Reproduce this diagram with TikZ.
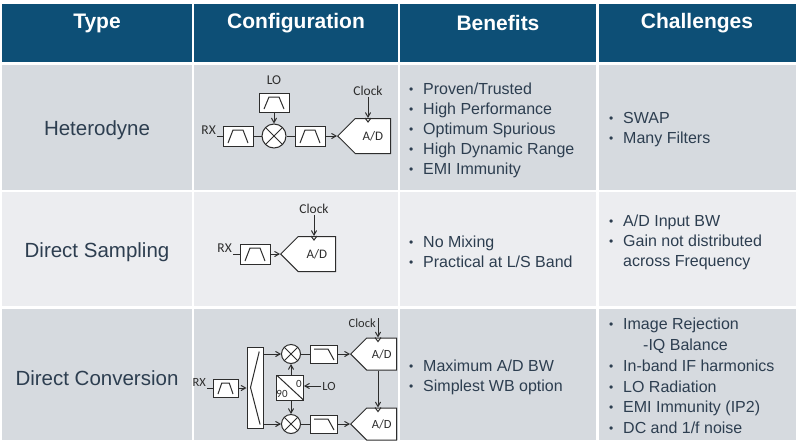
\documentclass[tikz,border=0pt]{standalone}
\usepackage{fontspec}
\setmainfont{Liberation Sans}
\newfontfamily\diagfont{Carlito}
\usetikzlibrary{arrows,shapes.symbols,calc}

\definecolor{headblue}{RGB}{13,79,118}
\definecolor{rowgray}{RGB}{214,218,223}
\definecolor{rowlight}{RGB}{236,237,240}
\definecolor{bodytext}{RGB}{45,62,80}
\definecolor{wire}{RGB}{45,45,45}

\newcommand{\bul}{\makebox[14pt][l]{\raisebox{1pt}{\fontsize{12}{12}\selectfont\textbullet}}}

\begin{document}
\begin{tikzpicture}[x=1pt,y=-1pt]
\tikzset{>=angle 60}
\tikzset{head/.style={text=white,font=\fontsize{21}{25}\selectfont\bfseries}}
\tikzset{kind/.style={text=bodytext,font=\fontsize{20.5}{24}\selectfont}}
\tikzset{list/.style={text=bodytext,font=\fontsize{16}{20}\selectfont,align=left,anchor=west,inner sep=0pt}}
\tikzset{lbl/.style={text=wire,inner sep=1pt,font=\diagfont\fontsize{13.5}{15}\selectfont}}
\tikzset{wires/.style={draw=wire,line width=1pt}}
\tikzset{bpf/.style={wires,fill=white,inner sep=0pt,minimum width=30pt,minimum height=20pt,
  path picture={
    \coordinate (gsw) at ([shift={(5pt,3pt)}]path picture bounding box.south west);
    \coordinate (gne) at ([shift={(-5pt,-4pt)}]path picture bounding box.north east);
    \draw[wires] (gsw) -- ($(gsw|-gne)!.25!(gne)$) -- ($(gsw|-gne)!.75!(gne)$) -- (gsw-|gne);}}}
\tikzset{lpf/.style={wires,fill=white,inner sep=0pt,minimum width=27pt,minimum height=18pt,
  path picture={
    \coordinate (gsw) at ([shift={(4pt,3pt)}]path picture bounding box.south west);
    \coordinate (gne) at ([shift={(-3pt,-4pt)}]path picture bounding box.north east);
    \draw[wires] (gsw|-gne) -- ($(gsw|-gne)!.7!(gne)$) -- (gsw-|gne);}}}
\tikzset{mixer/.style={circle,wires,fill=white,inner sep=0pt,minimum size=24pt,
  path picture={
    \draw[wires] (path picture bounding box.north west) -- (path picture bounding box.south east)
      (path picture bounding box.south west) -- (path picture bounding box.north east);}}}
\tikzset{adc/.style={signal,signal to=west,signal pointer angle=90,wires,fill=white,
  inner sep=0pt,minimum width=53pt,minimum height=35pt,anchor=west,
  text=wire,font=\diagfont\fontsize{13}{15}\selectfont}}

\useasboundingbox (0,0) rectangle (800,445);
\fill[white] (0,0) rectangle (800,445);

% table cells
\foreach \ya/\yb/\c in {4/62/headblue,65/190/rowgray,192/306/rowlight,309/440/rowgray}
  \foreach \xa/\xb in {2/192,194/398,400/596,599/796}
    \fill[\c] (\xa,\ya) rectangle (\xb,\yb);

\node[head] (hType) at (97,23) {Type};
\node[head] (hConf) at (296,23) {Configuration};
\node[head] (hBen) at (498,23) {Benefits};
\node[head] (hChal) at (697,23) {Challenges};

\node[kind] (tHet) at (97,130) {Heterodyne};
\node[kind] (tSamp) at (97,252) {Direct Sampling};
\node[kind] (tConv) at (97,378) {Direct Conversion};

% heterodyne
\node[bpf] (f1) at (238,136) {};
\node[mixer] (mx1) at (274,136) {};
\node[bpf] (f2) at (310,136) {};
\node[bpf,minimum height=19pt] (lof) at (274,102.5) {};
\node[adc] (ad1) at (337,136) {A/D};
\node[lbl] (lo1) at (274,80) {LO};
\node[lbl,anchor=south east] (rx1) at (217,136) {RX};
\node[lbl] (clk1) at (368,91) {Clock};
\coordinate (ck1) at (clk1 |- ad1.north);
\draw[wires] (rx1.south east) -- (f1);
\draw[wires] (f1) -- (mx1);
\draw[wires] (mx1) -- (f2);
\draw[wires,->] (lof) -- (mx1);
\draw[wires,->] (f2) -- (ad1.west);
\draw[wires,->] (clk1) -- (ck1);
\draw[wires] (ck1) ++(-3pt,0) -- ++(3pt,-4pt) -- ++(3pt,4pt);

% direct sampling
\node[bpf] (f3) at (255,254) {};
\node[adc,minimum width=55pt] (ad2) at (280,254) {A/D};
\node[lbl,anchor=south east] (rx2) at (233,254) {RX};
\node[lbl] (clk2) at (314,209) {Clock};
\coordinate (ck2) at (clk2 |- ad2.north);
\draw[wires] (rx2.south east) -- (f3);
\draw[wires,->] (f3) -- (ad2.west);
\draw[wires,->] (clk2) -- (ck2);
\draw[wires] (ck2) ++(-3pt,0) -- ++(3pt,-4pt) -- ++(3pt,4pt);

% direct conversion
\tikzset{lbl/.append style={font=\diagfont\fontsize{12.5}{14}\selectfont}}
\node[bpf,minimum width=25pt,minimum height=18pt] (f4) at (225.5,388) {};
\node[wires,fill=white,minimum width=16pt,minimum height=81pt] (sp) at (255,387.5) {};
\node[mixer,minimum size=19pt] (m1) at (291,354) {};
\node[mixer,minimum size=19pt] (m2) at (291,424) {};
\node[wires,fill=white,inner sep=0pt,minimum width=27pt,minimum height=25pt,
  path picture={\draw[wires] (path picture bounding box.north west) -- (path picture bounding box.south east);}] (hy) at (290,387.5) {};
\node[lbl,font=\diagfont\fontsize{11}{12}\selectfont] (h0) at (299,384) {0};
\node[lbl,font=\diagfont\fontsize{11}{12}\selectfont] (h90) at (282,394) {90};
\node[lbl] (lo3) at (329,386) {LO};
\node[lpf] (l1) at (323.5,354) {};
\node[lpf] (l2) at (323.5,424) {};
\node[adc,minimum width=46pt,minimum height=32pt,font=\diagfont\fontsize{12.5}{14}\selectfont] (ad3) at (350,354) {A/D};
\node[adc,minimum width=46pt,minimum height=32pt,font=\diagfont\fontsize{12.5}{14}\selectfont] (ad4) at (350,424) {A/D};
\node[lbl,anchor=east] (rx3) at (207,382) {RX};
\node[lbl,anchor=east] (clk3) at (377,323) {Clock};
\coordinate (ck3) at (378,318);
\coordinate (ck3a) at (ck3 |- ad3.north);
\coordinate (ck3b) at (ck3 |- ad3.south);
\coordinate (ck3c) at (ck3 |- ad4.north);
\draw[wires] ($(sp.north west)!.75!(sp.north east)+(0,5)$) -- ($(sp.west)+(4,0)$)
  -- ($(sp.south west)!.8!(sp.south east)+(0,-4)$);
\draw[wires] (rx3.south east |- f4) -- (f4);
\draw[wires,->] (f4) -- (f4 -| sp.west);
\draw[wires,->] (sp.east |- m1) -- (m1);
\draw[wires,->] (sp.east |- m2) -- (m2);
\draw[wires,->] (hy.north -| m1) -- (m1);
\draw[wires,->] (hy.south -| m2) -- (m2);
\draw[wires,->] (lo3) -- (lo3 -| hy.east);
\draw[wires] (m1) -- (l1);
\draw[wires] (m2) -- (l2);
\draw[wires,->] (l1) -- (ad3.west);
\draw[wires,->] (l2) -- (ad4.west);
\draw[wires,->] (ck3) -- (ck3a);
\draw[wires] (ck3a) ++(-3pt,0) -- ++(3pt,-4pt) -- ++(3pt,4pt);
\draw[wires,->] (ck3b) -- (ck3c);
\draw[wires] (ck3c) ++(-3pt,0) -- ++(3pt,-4pt) -- ++(3pt,4pt);

% lists
\node[list] (bHet) at (409,130) {\bul Proven/Trusted\\ \bul High Performance\\ \bul Optimum Spurious\\
  \bul High Dynamic Range\\ \bul EMI Immunity};
\node[list] (cHet) at (609,130) {\bul SWAP\\ \bul Many Filters};
\node[list] (bSamp) at (409,252) {\bul No Mixing\\ \bul Practical at L/S Band};
\node[list] (cSamp) at (609,242) {\bul A/D Input BW\\ \bul Gain not distributed\\ \hspace*{14pt}across Frequency};
\node[list] (bConv) at (409,377) {\bul Maximum A/D BW\\ \bul Simplest WB option};
\node[list,font=\fontsize{16}{20.8}\selectfont] (cConv) at (609,376) {\bul Image Rejection\\ \hspace*{34pt}-IQ Balance\\
  \bul In-band IF harmonics\\ \bul LO Radiation\\ \bul EMI Immunity (IP2)\\ \bul DC and 1/f noise};
\end{tikzpicture}
\end{document}
